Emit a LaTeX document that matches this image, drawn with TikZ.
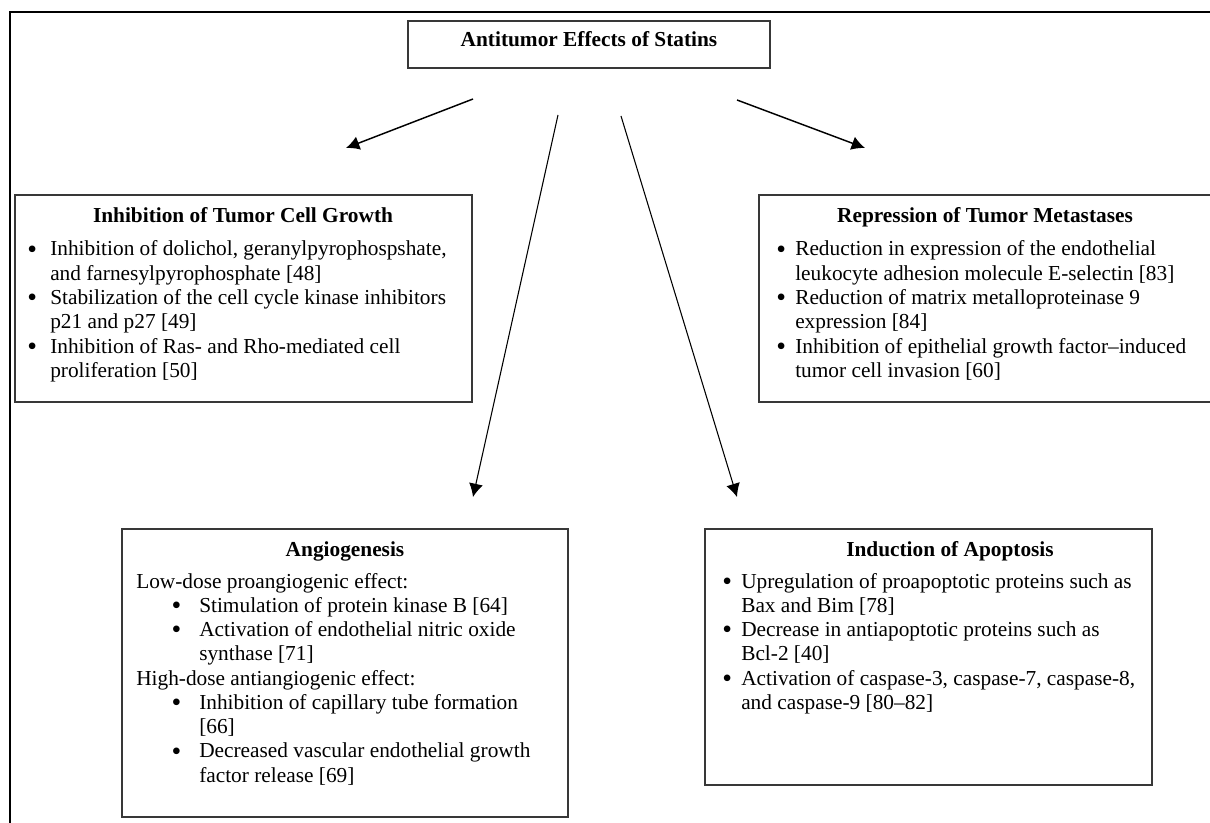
\documentclass[tikz,border=0pt]{standalone}
\usepackage{fontspec}
\setmainfont{Liberation Serif}
\usetikzlibrary{arrows.meta,fit}
\newcommand{\bull}{\smash{\raisebox{-1.6pt}{\scalebox{1.3}{\textbullet}}}}
\begin{document}
\begin{tikzpicture}[x=0.75pt,y=-0.75pt]
  \tikzstyle{every node}=[inner sep=0pt, font=\fontsize{16}{18.2}\selectfont, text=black]
  \tikzstyle{box}=[draw=black!78, line width=1.4pt]
  \tikzstyle{head}=[anchor=base, font=\fontsize{16}{18.2}\selectfont\bfseries]
  \tikzstyle{list}=[anchor=base west]
  \tikzstyle{edge}=[line width=1.1pt, -{Latex[length=10pt,width=10.5pt]}]

  \useasboundingbox (0,0) rectangle (1210,823);
  \clip (0,0) rectangle (1210,823);
  \fill[white] (0,0) rectangle (1210,823);
  \draw[line width=2.2pt] (1240,12) -- (10,12) -- (10,850);

  \node[box, fit={(408,21) (770,68)}] (statins) {};
  \node[head] (statinstext) at (589,47) {Antitumor Effects of Statins};

  \node[box, fit={(15,195) (472,402)}] (growth) {};
  \node[head] (growthhead) at (243,223) {Inhibition of Tumor Cell Growth};
  \node[list] (growthtext) at (27,256) {\begin{tabular}[t]{@{}p{17.25pt}@{}l@{}}
    \bull & Inhibition of dolichol, geranylpyrophospshate,\\
     & and farnesylpyrophosphate [48]\\
    \bull & Stabilization of the cell cycle kinase inhibitors\\
     & p21 and p27 [49]\\
    \bull & Inhibition of Ras- and Rho-mediated cell\\
     & proliferation [50]
  \end{tabular}};

  \node[box, fit={(759,195) (1216,402)}] (metastases) {};
  \node[head] (metastaseshead) at (985,223) {Repression of Tumor Metastases};
  \node[list] (metastasestext) at (776,256) {\begin{tabular}[t]{@{}p{14.25pt}@{}l@{}}
    \bull & Reduction in expression of the endothelial\\
     & leukocyte adhesion molecule E-selectin [83]\\
    \bull & Reduction of matrix metalloproteinase 9\\
     & expression [84]\\
    \bull & Inhibition of epithelial growth factor--induced\\
     & tumor cell invasion [60]
  \end{tabular}};

  \node[box, fit={(122,529) (568,817)}] (angio) {};
  \node[head] (angiohead) at (345,556) {Angiogenesis};
  \node[list] (angiotext) at (136,588) {\begin{tabular}[t]{@{}p{47.25pt}@{}l@{}}
    \multicolumn{2}{@{}l@{}}{Low-dose proangiogenic effect:}\\
    \hspace*{26.5pt}\bull & Stimulation of protein kinase B [64]\\
    \hspace*{26.5pt}\bull & Activation of endothelial nitric oxide\\
     & synthase [71]\\
    \multicolumn{2}{@{}l@{}}{High-dose antiangiogenic effect:}\\
    \hspace*{26.5pt}\bull & Inhibition of capillary tube formation\\
     & [66]\\
    \hspace*{26.5pt}\bull & Decreased vascular endothelial growth\\
     & factor release [69]
  \end{tabular}};

  \node[box, fit={(705,529) (1152,785)}] (apoptosis) {};
  \node[head] (apoptosishead) at (950,556) {Induction of Apoptosis};
  \node[list] (apoptosistext) at (722,588) {\begin{tabular}[t]{@{}p{14.25pt}@{}l@{}}
    \bull & Upregulation of proapoptotic proteins such as\\
     & Bax and Bim [78]\\
    \bull & Decrease in antiapoptotic proteins such as\\
     & Bcl-2 [40]\\
    \bull & Activation of caspase-3, caspase-7, caspase-8,\\
     & and caspase-9 [80--82]
  \end{tabular}};

  \coordinate (g1) at (473,99);   \coordinate (g2) at (346,148);
  \coordinate (a1) at (558,115);  \coordinate (a2) at (473,497);
  \coordinate (p1) at (621,116);  \coordinate (p2) at (737,497);
  \coordinate (m1) at (737,100);  \coordinate (m2) at (865,148);

  \draw[edge] (g1) -- (g2);
  \draw[edge] (m1) -- (m2);
  \tikzstyle{edge}=[line width=0.8pt, -{Latex[length=10pt,width=10.5pt]}]
  \draw[edge] (a1) -- (a2);
  \draw[edge] (p1) -- (p2);
\end{tikzpicture}
\end{document}
